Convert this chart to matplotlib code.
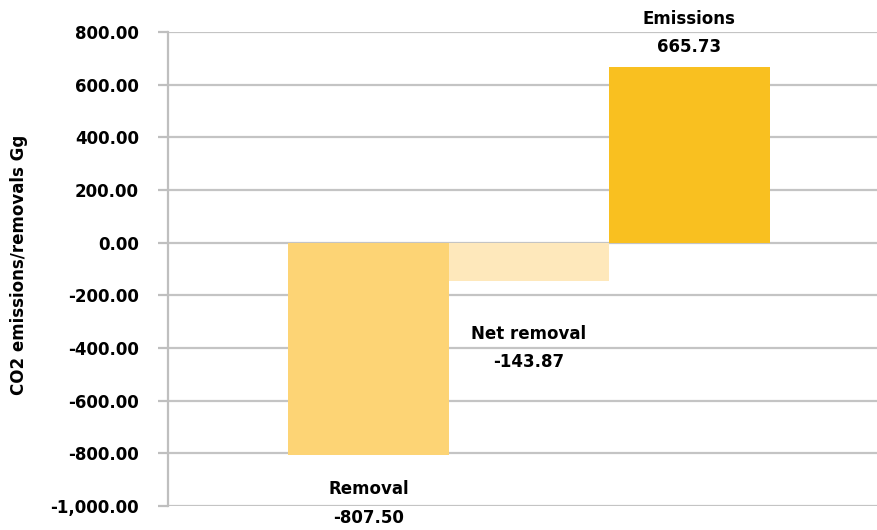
import matplotlib.pyplot as plt
from matplotlib.ticker import FuncFormatter

# CO2 balance, Gg
categories = ['Removal', 'Net removal', 'Emissions']
values = [-807.50, -143.87, 665.73]
colors = ['#FDD475', '#FEE8BB', '#F9C020']
y_ticks = [-1000, -800, -600, -400, -200, 0, 200, 400, 600, 800]

plt.rcParams['font.family'] = ['DejaVu Sans']
plt.rcParams['font.weight'] = 'bold'

fig = plt.figure(figsize=(8.77, 5.30), dpi=100)
ax = fig.add_axes([0.1916, 0.0453, 0.8084, 0.8943])

x = list(range(len(categories)))
ax.bar(x, values, width=1.0, color=colors, zorder=2)

ax.set_xlim(-1.25, 3.17)
ax.set_ylim(-1000, 800)
ax.set_yticks(y_ticks)
ax.yaxis.set_major_formatter(FuncFormatter(lambda v, p: '{:,.2f}'.format(v)))
ax.set_xticks([])
ax.grid(axis='y', color='#c4c4c4', linewidth=1.6, zorder=0)

for side in ['top', 'right', 'bottom']:
    ax.spines[side].set_visible(False)
ax.spines['left'].set_color('#bfbfbf')
ax.spines['left'].set_linewidth(1.6)
ax.tick_params(axis='y', length=7, width=1.6, color='#bfbfbf', pad=14,
               labelsize=12)

ax.set_ylabel('CO2 emissions/removals Gg', fontsize=12, fontweight='bold')
ax.yaxis.set_label_coords(-0.197, 0.508)

# value labels
offsets = [(0, -18), (0, -32), (0, 8)]
aligns = ['top', 'top', 'bottom']
for i, (name, v) in enumerate(zip(categories, values)):
    ax.annotate('{}\n{:.2f}'.format(name, v), xy=(x[i], v),
                xytext=offsets[i], textcoords='offset points',
                ha='center', va=aligns[i], fontsize=12, fontweight='bold',
                annotation_clip=False, linespacing=1.75)

fig.savefig('out.png', dpi=100)
